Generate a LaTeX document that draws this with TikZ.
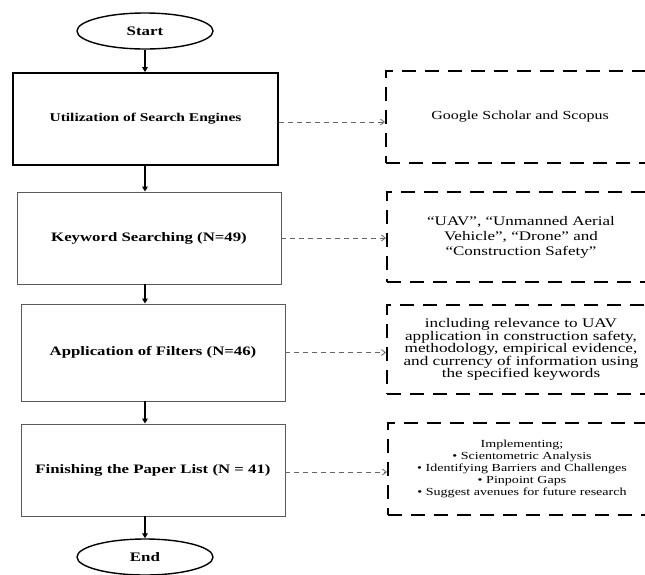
\documentclass[tikz,border=0pt]{standalone}
\usepackage{fontspec}
\setmainfont[FakeStretch=1.3]{Liberation Serif}
\usetikzlibrary{arrows.meta,shapes.geometric}

\begin{document}
\begin{tikzpicture}[x=1pt,y=-1pt,
  flow/.style={-{Triangle[length=5pt,width=5.5pt]},line width=1.6pt},
  link/.style={-{Straight Barb[length=4pt,width=6pt]},draw=black!60,line width=0.8pt,dash pattern=on 5pt off 4pt},
  term/.style={ellipse,draw,line width=1.4pt,minimum width=136pt,minimum height=36pt,inner sep=0pt,font=\bfseries\fontsize{13}{15}\selectfont},
  stepbox/.style={rectangle,draw=black!65,line width=0.9pt,minimum width=264pt,minimum height=92pt,inner sep=0pt,font=\bfseries\fontsize{12.9}{15}\selectfont},
  notebox/.style={rectangle,draw,line width=2pt,dash pattern=on 14pt off 9pt,minimum width=268pt,inner sep=0pt,align=center,text width=250pt}]
\useasboundingbox (0,0) rectangle (645,574);
\clip (0,0) rectangle (645,574);
% ---------- main steps ----------
\node[term] (start) at (145,31) {Start};
\node[stepbox,draw=black,line width=1.8pt,minimum width=265pt,font=\bfseries\fontsize{11.9}{14}\selectfont] (util) at (145.5,119) {Utilization of Search Engines};
\node[stepbox] (keyword) at (149,238) {Keyword Searching (N=49)};
\node[stepbox,minimum height=97pt] (filter) at (153,352.5) {Application of Filters (N=46)};
\node[stepbox] (finish) at (153,470) {Finishing the Paper List (N = 41)};
\node[term] (stop) at (145,557) {End};
% ---------- notes ----------
\node[notebox,minimum height=92pt,font=\fontsize{12.3}{14}\selectfont] (engines) at (520,117) {Google Scholar and Scopus};
\node[notebox,minimum height=90pt,font=\fontsize{13.1}{15}\selectfont] (terms) at (521,237) {“UAV”, “Unmanned Aerial\\ Vehicle”, “Drone” and\\ “Construction Safety”};
\node[notebox,minimum height=89pt,font=\fontsize{13.2}{12.4}\selectfont] (criteria) at (521,349.5) {including relevance to UAV\\ application in construction safety,\\ methodology, empirical evidence,\\ and currency of information using\\ the specified keywords};
\node[notebox,minimum height=92pt,font=\fontsize{10.8}{11.8}\selectfont] (tasks) at (522,469) {Implementing;\\ • Scientometric Analysis\\ • Identifying Barriers and Challenges\\ • Pinpoint Gaps\\ • Suggest avenues for future research};
% ---------- connectors ----------
\draw[flow] (start.south) -- (start.south |- util.north);
\draw[flow] (util.south -| start) -- (keyword.north -| start);
\draw[flow] (keyword.south -| start) -- (filter.north -| start);
\draw[flow] (filter.south -| start) -- (finish.north -| start);
\draw[flow] (finish.south -| start) -- (stop.north);
\draw[link] ([yshift=-3pt]util.east) -- ([yshift=-3pt]util.east -| engines.west);
\draw[link] (keyword.east) -- (keyword.east -| terms.west);
\draw[link] (filter.east) -- (filter.east -| criteria.west);
\draw[link] ([yshift=-2pt]finish.east) -- ([yshift=-2pt]finish.east -| tasks.west);
\end{tikzpicture}
\end{document}
